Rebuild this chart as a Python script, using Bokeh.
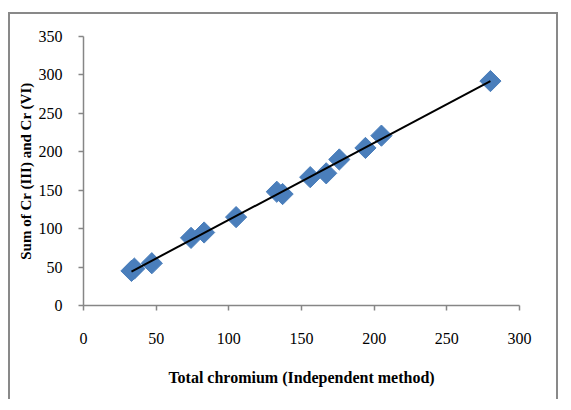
import numpy as np
from bokeh.plotting import figure
from bokeh.models import Range1d, FixedTicker
from bokeh.embed import file_html
from bokeh.resources import INLINE

# Data
total_cr = [33, 35, 47, 74, 83, 105, 133, 137, 156, 167, 176, 194, 205, 280]
sum_cr = [45, 48, 55, 88, 95, 115, 148, 145, 167, 172, 190, 205, 221, 292]
x_ticks = [0, 50, 100, 150, 200, 250, 300]
y_ticks = [0, 50, 100, 150, 200, 250, 300, 350]

AXIS_GRAY = "#868686"
FONT = "Liberation Serif"

p = figure(
    frame_width=436, frame_height=269,
    min_border_left=73, min_border_right=37,
    min_border_top=22, min_border_bottom=94,
    x_range=Range1d(0, 300), y_range=Range1d(0, 350),
    output_backend="svg", toolbar_location=None,
)
p.outline_line_color = None
p.xgrid.grid_line_color = None
p.ygrid.grid_line_color = None
p.background_fill_color = "white"
p.border_fill_color = "white"

for ax, ticks in ((p.xaxis[0], x_ticks), (p.yaxis[0], y_ticks)):
    ax.ticker = FixedTicker(ticks=ticks)
    ax.axis_line_color = AXIS_GRAY
    ax.axis_line_width = 1.5
    ax.major_tick_line_color = AXIS_GRAY
    ax.major_tick_line_width = 1.5
    ax.major_tick_out = 5
    ax.major_tick_in = 0
    ax.minor_tick_line_color = None
    ax.major_label_text_font = FONT
    ax.major_label_text_font_size = "16px"
    ax.major_label_text_color = "black"
    ax.axis_label_text_font = FONT
    ax.axis_label_text_font_style = "bold"
    ax.axis_label_text_color = "black"

p.xaxis[0].axis_label = "Total chromium (Independent method)"
p.xaxis[0].axis_label_text_font_size = "16px"
p.xaxis[0].major_label_standoff = 22
p.xaxis[0].axis_label_standoff = 22
p.yaxis[0].axis_label = "Sum of Cr (III) and Cr (VI)"
p.yaxis[0].axis_label_text_font_size = "15px"
p.yaxis[0].major_label_standoff = 16
p.yaxis[0].axis_label_standoff = 2

# Linear trend line
coef = np.polyfit(total_cr, sum_cr, 1)
xs = [min(total_cr), max(total_cr)]
ys = list(np.polyval(coef, xs))

p.scatter(total_cr, sum_cr, marker="square", size=15, angle=np.pi / 4,
          fill_color="#4A7EBB", line_color="#4A7EBB")
p.line(xs, ys, line_color="black", line_width=2)

# Outer chart-area border (CSS on the figure's host element)
p.styles = {
    "margin-left": "8px",
    "margin-top": "12px",
    "border-left": "2px solid #898989",
    "border-top": "2px solid #898989",
    "border-right": "2px solid #898989",
}

open("out.html", "w").write(file_html(p, INLINE))
